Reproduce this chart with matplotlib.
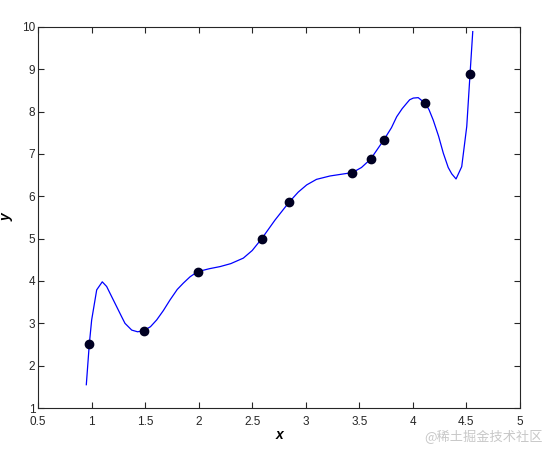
import matplotlib
matplotlib.use("Agg")
import matplotlib.pyplot as plt

# sample points (dots)
pts_x = [0.979, 1.49, 1.99, 2.589, 2.844, 3.435, 3.606, 3.731, 4.113, 4.534]
pts_y = [2.51, 2.83, 4.22, 5.0, 5.86, 6.56, 6.88, 7.34, 8.2, 8.9]

# fitted curve
curve_x = [0.951, 0.979, 1.001, 1.048, 1.10, 1.141, 1.18, 1.235, 1.28, 1.312,
           1.375, 1.43, 1.49, 1.55, 1.608, 1.67, 1.732, 1.8, 1.857, 1.92,
           1.99, 2.1, 2.2, 2.3, 2.417, 2.5, 2.589, 2.713, 2.844, 2.93,
           3.009, 3.1, 3.226, 3.33, 3.435, 3.52, 3.606, 3.731, 3.8, 3.849,
           3.9, 3.943, 3.97, 4.004, 4.05, 4.113, 4.15, 4.19, 4.24, 4.284,
           4.33, 4.363, 4.403, 4.456, 4.503, 4.534, 4.559]
curve_y = [1.55, 2.51, 3.08, 3.79, 3.98, 3.87, 3.67, 3.39, 3.16, 3.0,
           2.84, 2.8, 2.83, 2.92, 3.08, 3.3, 3.55, 3.8, 3.95, 4.1,
           4.22, 4.29, 4.34, 4.41, 4.54, 4.72, 5.0, 5.44, 5.86, 6.1,
           6.27, 6.4, 6.48, 6.52, 6.56, 6.68, 6.88, 7.34, 7.62, 7.88,
           8.07, 8.2, 8.28, 8.32, 8.33, 8.2, 8.05, 7.8, 7.42, 7.02,
           6.68, 6.53, 6.41, 6.70, 7.65, 8.9, 9.89]

xticks = [0.5, 1, 1.5, 2, 2.5, 3, 3.5, 4, 4.5, 5]
yticks = [1, 2, 3, 4, 5, 6, 7, 8, 9, 10]

plt.rcParams['font.family'] = ['Liberation Sans', 'DejaVu Sans']

fig = plt.figure(figsize=(5.54, 4.49), dpi=100)
ax = fig.add_axes([0.0686, 0.0913, 0.87, 0.8487])

ax.plot(curve_x, curve_y, color="#0000ff", linewidth=0.9)
ax.plot(pts_x, pts_y, "o", color="#000022", markersize=6)

ax.set_xlim(0.5, 5)
ax.set_ylim(1, 10)
ax.set_xticks(xticks)
ax.set_xticklabels([f"{t:g}" for t in xticks])
ax.set_yticks(yticks)
ax.tick_params(direction="in", top=True, right=True, length=4, width=0.8,
               labelsize=8.5, colors="#262626")
ax.tick_params(axis="x", pad=6)
ax.tick_params(axis="y", pad=2)
for s in ax.spines.values():
    s.set_color("#262626")
    s.set_linewidth(0.8)

ax.set_xlabel("x", fontsize=10, fontweight="bold", fontstyle="italic", labelpad=0)
ax.set_ylabel("y", fontsize=10, fontweight="bold", fontstyle="italic", labelpad=6)

fig.text(0.98, 0.026, "@稀土掘金技术社区", ha="right", va="center", fontsize=9.5,
         color="#c8c8c8", family=["Noto Sans CJK SC", "DejaVu Sans"])

fig.savefig("out.png", dpi=100)
